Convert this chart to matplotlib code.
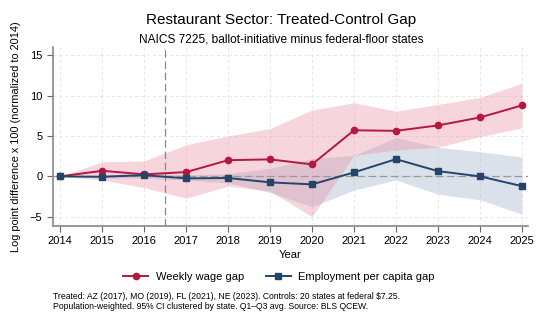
import numpy as np
import matplotlib.pyplot as plt

plt.rcParams["font.family"] = ["Liberation Sans", "DejaVu Sans"]

years = np.arange(2014, 2026)

wage = [0, 0.69, 0.25, 0.53, 2.0, 2.1, 1.48, 5.7, 5.63, 6.3, 7.28, 8.77]
wage_lo = [0, -0.45, -1.4, -2.7, -1.2, -1.8, -5.0, 2.6, 3.25, 3.6, 4.9, 6.0]
wage_hi = [0, 1.8, 1.9, 3.9, 5.0, 5.9, 8.2, 9.1, 8.06, 8.9, 9.75, 11.5]

emp = [0, -0.05, 0.15, -0.25, -0.2, -0.74, -0.99, 0.49, 2.13, 0.65, 0.0, -1.2]
emp_lo = [0, -0.2, -0.2, -0.5, -0.8, -2.0, -3.75, -1.7, -0.45, -2.2, -2.9, -4.65]
emp_hi = [0, 0.15, 0.45, 0.2, 0.35, 1.0, 2.2, 2.6, 4.8, 3.6, 3.05, 2.4]

wage_col = "#b5173f"
emp_col = "#24456b"

fig = plt.figure(figsize=(5.4, 3.24), dpi=100)
ax = fig.add_axes([0.0976, 0.3034, 0.8804, 0.5516])

ax.fill_between(years, emp_lo, emp_hi, color="#9aa9c4", alpha=0.35, lw=0)
ax.fill_between(years, wage_lo, wage_hi, color="#e8889e", alpha=0.35, lw=0)
ax.axhline(0, color="#999999", ls=(0, (6, 3)), lw=0.9, zorder=1)
ax.axvline(2016.5, color="#888888", ls=(0, (6, 3)), lw=0.9, zorder=1)

ax.plot(years, wage, color=wage_col, marker="o", ms=4.5, lw=1.4,
        label="Weekly wage gap", zorder=3)
ax.plot(years, emp, color=emp_col, marker="s", ms=4.5, lw=1.4,
        label="Employment per capita gap", zorder=3)

ax.set_xlim(2013.82, 2025.15)
ax.set_ylim(-6.1, 16)
ax.set_xticks(years)
ax.set_yticks([-5, 0, 5, 10, 15])
ax.tick_params(labelsize=8, color="#666666", length=4)
ax.grid(True, color="#e4e4e4", ls=(0, (4, 3)), lw=0.6)
ax.set_axisbelow(True)
for s in ["top", "right"]:
    ax.spines[s].set_visible(False)
for s in ["left", "bottom"]:
    ax.spines[s].set_color("#888888")
    ax.spines[s].set_linewidth(1.2)

ax.set_xlabel("Year", fontsize=8, labelpad=3)
ax.set_ylabel("Log point difference x 100 (normalized to 2014)", fontsize=7.9, labelpad=6)

fig.text(0.52, 0.938, "Restaurant Sector: Treated-Control Gap",
         ha="center", va="center", fontsize=11)
fig.text(0.52, 0.877, "NAICS 7225, ballot-initiative minus federal-floor states",
         ha="center", va="center", fontsize=8.6)

fig.legend(loc="center", bbox_to_anchor=(0.517, 0.146), ncol=2, frameon=False,
           fontsize=8, handlelength=2.2, columnspacing=2.0, handletextpad=0.7)

fig.text(0.0976, 0.07,
         "Treated: AZ (2017), MO (2019), FL (2021), NE (2023). Controls: 20 states at federal $7.25.\n"
         "Population-weighted. 95% CI clustered by state. Q1\u2013Q3 avg. Source: BLS QCEW.",
         ha="left", va="center", fontsize=6.2, linespacing=1.15)

fig.savefig("out.png", dpi=100)
